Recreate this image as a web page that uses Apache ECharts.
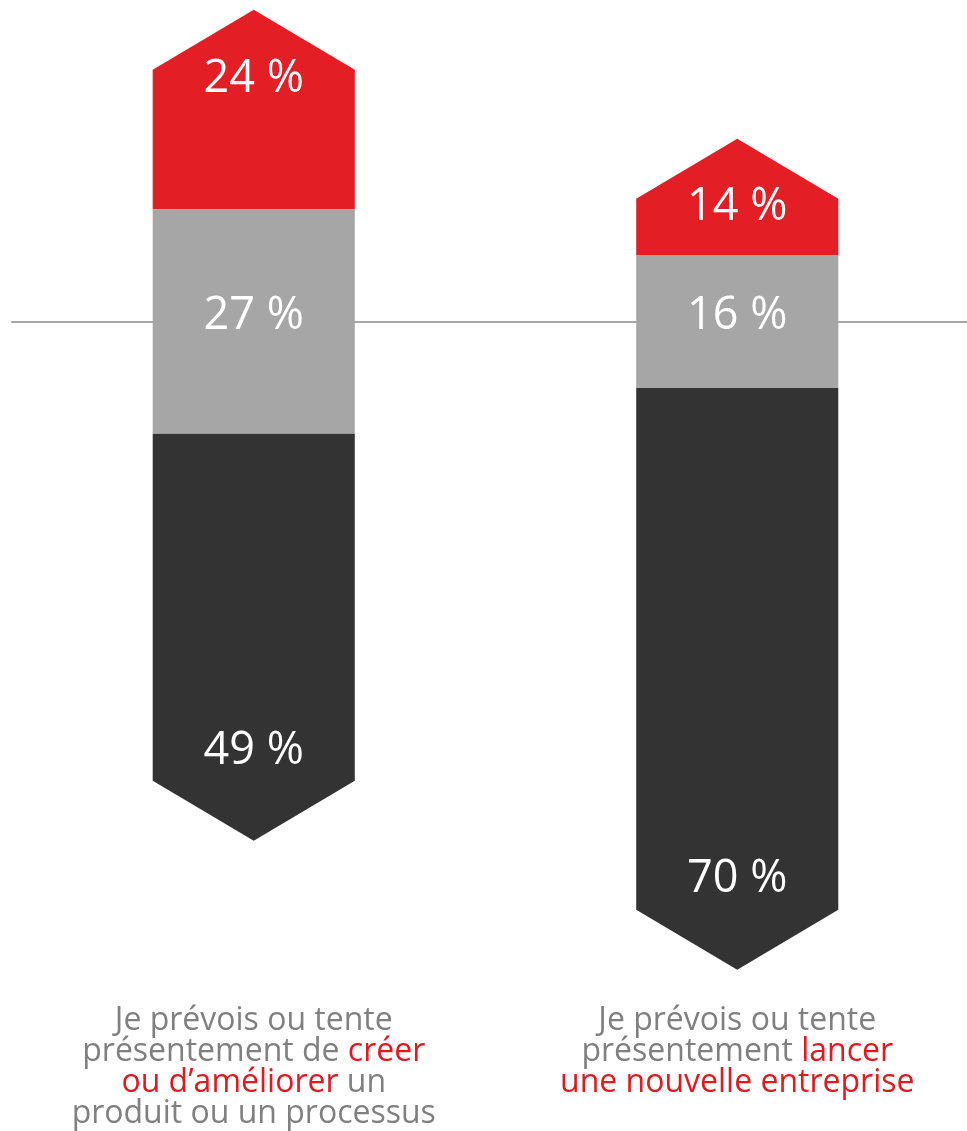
<html>
<head>
    <meta charset="utf-8">
    <title>ECharts</title>
    <script src="https://cdn.jsdelivr.net/npm/echarts@6.0.0/dist/echarts.min.js"></script>
    <style>
        html, body { margin: 0; padding: 0; background: #fff; }
    </style>
</head>
<body>
<div id="main" style="width: 967px;height:1131px;"></div>
<script type="text/javascript">
    // category labels ({r|...} parts are highlighted in red)
    var categories = [
        '{g|Je prévois ou tente}\n{g|présentement de }{r|créer}\n{r|ou d’améliorer}{g| un}\n{g|produit ou un processus}',
        '{g|Je prévois ou tente}\n{g|présentement }{r|lancer}\n{r|une nouvelle entreprise}'
    ];
    // shares in %
    var redValues = [24, 14];
    var greyValues = [27, 16];
    var darkValues = [49, 70];

    var FONT = '"Open Sans", sans-serif';
    var ARROW = 60;        // height of the arrow points, px
    var BAR_RATIO = 0.418; // column width / band width

    // the grey part is centred on zero, red above, dark below
    function segData(kind) {
        return categories.map(function (c, i) {
            var half = greyValues[i] / 2;
            if (kind === 'top') return [i, half + redValues[i], half, redValues[i]];
            if (kind === 'mid') return [i, half, -half, greyValues[i]];
            return [i, -half, -half - darkValues[i], darkValues[i]];
        });
    }

    function makeRender(kind) {
        return function (params, api) {
            var i = api.value(0);
            var pHi = api.coord([i, api.value(1)]);
            var pLo = api.coord([i, api.value(2)]);
            var w = api.size([1, 0])[0] * BAR_RATIO;
            var cx = pHi[0], xl = cx - w / 2, xr = cx + w / 2;
            var top = pHi[1], bot = pLo[1];
            var pts, ty;
            if (kind === 'top') {
                pts = [[xl, bot], [xl, top + ARROW], [cx, top], [xr, top + ARROW], [xr, bot]];
                ty = top + ARROW + 9;
            } else if (kind === 'mid') {
                pts = [[xl, top], [xr, top], [xr, bot], [xl, bot]];
                ty = (top + bot) / 2 - 5;
            } else {
                pts = [[xl, top], [xr, top], [xr, bot - ARROW], [cx, bot], [xl, bot - ARROW]];
                ty = bot - ARROW - 30;
            }
            return {
                type: 'group',
                children: [
                    {type: 'polygon', shape: {points: pts}, style: {fill: api.visual('color')}},
                    {
                        type: 'text',
                        style: {
                            text: api.value(3) + ' %', x: cx, y: ty, fill: '#ffffff',
                            fontSize: 45, fontFamily: FONT, align: 'center', verticalAlign: 'middle'
                        }
                    }
                ]
            };
        };
    }

    var myChart = echarts.init(document.getElementById('main'));

    var labelStyle = {fontSize: 32, lineHeight: 31, fontFamily: FONT};

    var option = {
        animation: false,
        backgroundColor: '#ffffff',
        grid: {left: 12, right: -12, top: 5.7, height: 980.6, containLabel: false, outerBoundsMode: 'none'},
        xAxis: [{
            type: 'category',
            data: categories,
            position: 'bottom',
            axisLine: {show: false, onZero: false},
            axisTick: {show: false},
            splitLine: {show: false},
            axisLabel: {
                interval: 0,
                margin: 19,
                color: '#808080',
                fontSize: 32,
                lineHeight: 31,
                fontFamily: FONT,
                rich: {
                    g: Object.assign({color: '#808080'}, labelStyle),
                    r: Object.assign({color: '#e2191e'}, labelStyle)
                }
            }
        }, {
            // zero line
            type: 'category',
            data: categories,
            position: 'top',
            axisLine: {show: true, onZero: true, lineStyle: {color: '#a6a6a6', width: 2}},
            axisTick: {show: false},
            axisLabel: {show: false},
            splitLine: {show: false}
        }],
        yAxis: {
            type: 'value',
            min: -80,
            max: 38,
            show: false,
            splitLine: {show: false}
        },
        series: [
            {type: 'custom', name: 'red', renderItem: makeRender('top'), itemStyle: {color: '#e31e24'}, data: segData('top'), z: 3},
            {type: 'custom', name: 'grey', renderItem: makeRender('mid'), itemStyle: {color: '#a6a6a6'}, data: segData('mid'), z: 3},
            {type: 'custom', name: 'dark', renderItem: makeRender('bottom'), itemStyle: {color: '#333333'}, data: segData('bottom'), z: 3}
        ]
    };

    myChart.setOption(option);
</script>
</body>
</html>
